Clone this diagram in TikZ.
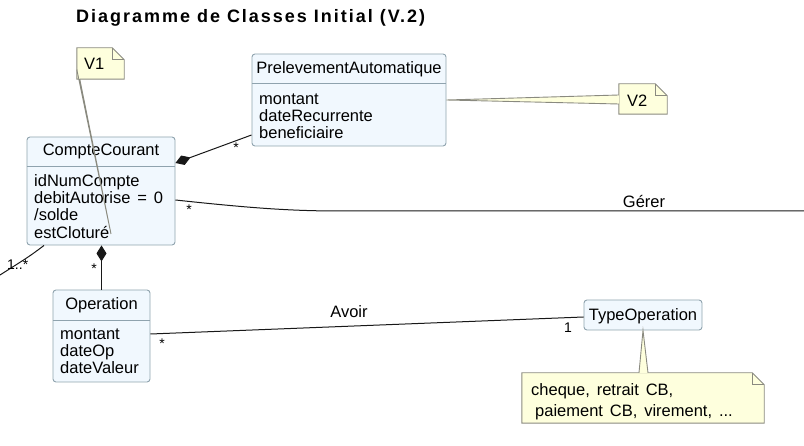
\documentclass[tikz,border=0pt]{standalone}
\usepackage{fontspec}
\setmainfont[WordSpace=1.5]{Liberation Sans}
\newfontfamily\titlefont[LetterSpace=11]{Liberation Sans}
\usetikzlibrary{arrows.meta,backgrounds}

\definecolor{classfill}{HTML}{F1F8FE}
\definecolor{classline}{HTML}{8FA3AE}
\definecolor{notefill}{HTML}{FEFFDD}
\definecolor{noteline}{HTML}{8A8A80}
\definecolor{assocline}{HTML}{181818}

\tikzset{
  classbox/.style={draw=classline, fill=classfill, rounded corners=3pt, inner sep=0pt, line width=0.9pt},
  classname/.style={font=\fontsize{16.5}{17.3}\selectfont, anchor=base, inner sep=0pt},
  attrs/.style={font=\fontsize{16.5}{17.3}\selectfont, align=left, anchor=north west, inner sep=0pt},
  notebox/.style={inner sep=0pt},
  notetext/.style={font=\fontsize{16.5}{21}\selectfont, align=left, anchor=north west, inner sep=0pt},
  noteshape/.style={draw=noteline, fill=notefill, line width=0.9pt},
  assoc/.style={draw=assocline, line width=1pt},
  comp/.style={assoc, {Diamond[length=16pt,width=10pt]}-},
  mult/.style={font=\fontsize{14}{14}\selectfont, anchor=base, inner sep=0pt},
}

\newcommand\noteoutline[2]{%
  \draw[noteshape] (#1.south west) -- (#1.north west) -- ([xshift=-#2]#1.north east)
    -- ([yshift=-#2]#1.north east) -- (#1.south east) -- cycle;
  \draw[noteshape, fill=none] ([xshift=-#2]#1.north east) -- ([xshift=-#2,yshift=-#2]#1.north east)
    -- ([yshift=-#2]#1.north east);}

\begin{document}
\begin{tikzpicture}[x=1pt, y=-1pt]
\useasboundingbox (0,0) rectangle (804,446);

\node[font=\titlefont\bfseries\fontsize{18}{20}\selectfont, anchor=base west, inner sep=0pt] (title) at (76,23) {Diagramme de Classes Initial (V.2)};

\node[classbox, minimum width=148pt, minimum height=108pt] (cc) at (101,191) {};
\node[classbox, minimum width=194pt, minimum height=92pt] (pa) at (349,100) {};
\node[classbox, minimum width=97pt, minimum height=92pt] (op) at (101.5,336) {};
\node[classbox, minimum width=118pt, minimum height=30pt] (to) at (643,315) {};

\draw[classline, line width=0.9pt] (cc.west |- 0,166) -- (cc.east |- 0,166);
\draw[classline, line width=0.9pt] (pa.west |- 0,83) -- (pa.east |- 0,83);
\draw[classline, line width=0.9pt] (op.west |- 0,320) -- (op.east |- 0,320);

\node[classname] (cc-name) at (101,156) {CompteCourant};
\node[attrs] (cc-attr) at (34,173.9) {\strut idNumCompte\\debitAutorise = 0\\/solde\\estCloturé};
\node[classname] (pa-name) at (349,74) {PrelevementAutomatique};
\node[attrs] (pa-attr) at (259,91.9) {\strut montant\\dateRecurrente\\beneficiaire};
\node[classname] (op-name) at (101.5,310) {Operation};
\node[attrs] (op-attr) at (60,326.9) {\strut montant\\dateOp\\dateValeur};
\node[classname] (to-name) at (643,321) {TypeOperation};

\node[notebox, minimum width=47pt, minimum height=31pt] (v1) at (100.5,63.5) {};
\node[notebox, minimum width=48pt, minimum height=30pt] (v2) at (643,99) {};
\node[notebox, minimum width=242pt, minimum height=50pt] (ntype) at (643,398) {};
\begin{scope}[on background layer]
\noteoutline{v1}{12pt}
\noteoutline{v2}{12pt}
\noteoutline{ntype}{12pt}
\end{scope}

\draw[comp] ([yshift=28pt]cc.east) -- ([yshift=-35pt]pa.west);
\draw[comp] (op.north |- cc.south) -- (op.north);

\coordinate (gererend) at (804,211);
\draw[assoc] ([yshift=-9pt]cc.east) .. controls (250,208) and (290,211) .. (340,211) -- (gererend);
\coordinate (compteend) at (0,275);
\draw[assoc] ([xshift=-57pt]cc.south) .. controls (30,256) .. (compteend);
\draw[assoc] ([yshift=2pt]op.east) -- ([yshift=-2pt]to.west);

\fill[notefill] (pa.east) -- ([yshift=4pt]v2.west) -- ([yshift=-5pt]v2.west) -- cycle;
\draw[noteline, line width=0.9pt] ([yshift=4pt]v2.west) -- (pa.east) -- ([yshift=-5pt]v2.west);
\coordinate (v1tip) at (111,234);
\fill[notefill] (v1tip) -- ([yshift=-6pt]v1.west) -- ([xshift=3pt]v1.south west) -- cycle;
\draw[noteline, line width=0.9pt] ([yshift=-6pt]v1.west) -- (v1tip) -- ([xshift=3pt]v1.south west);
\fill[notefill] (to.south) -- ([xshift=-4pt]ntype.north) -- ([xshift=5pt]ntype.north) -- cycle;
\draw[noteline, line width=0.9pt] ([xshift=-4pt]ntype.north) -- (to.south) -- ([xshift=5pt]ntype.north);

\node[notetext] (v1-txt) at (84,54.3) {\strut V1};
\node[notetext] (v2-txt) at (627,91.8) {\strut V2};
\node[notetext] (ntype-txt) at (531,380.3) {\strut cheque, retrait CB,\\\hspace{4pt}paiement CB, virement, ...};

\node[mult] (m-pa) at (236,153) {*};
\node[mult] (m-gerer) at (189,215) {*};
\node[mult] (m-op) at (94,274) {*};
\node[mult] (m-avoir) at (162,349) {*};
\node[mult] (m-to) at (568,333) {1};
\node[mult, anchor=base west] (m-compte) at (7,270) {1..*};
\node[classname] (gerer) at (644,208) {Gérer};
\node[classname] (avoir) at (349,318) {Avoir};

\end{tikzpicture}
\end{document}
